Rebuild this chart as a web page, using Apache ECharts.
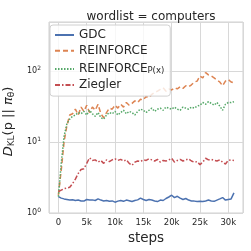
<!DOCTYPE html>
<html><head><meta charset="utf-8">
<script src="https://cdn.jsdelivr.net/npm/echarts@6/dist/echarts.min.js"></script>
<style>html,body{margin:0;padding:0;background:#fff}#c{width:251px;height:251px}</style>
</head><body><div id="c"></div>
<script>
const steps = [0,500,1000,1500,2000,2500,3000,3500,4000,4500,5000,5500,6000,6500,7000,7500,8000,8500,9000,9500,10000,10500,11000,11500,12000,12500,13000,13500,14000,14500,15000,15500,16000,16500,17000,17500,18000,18500,19000,19500,20000,20500,21000,21500,22000,22500,23000,23500,24000,24500,25000,25500,26000,26500,27000,27500,28000,28500,29000,29500,30000,30500,31000];
const gdc = [1.70,1.62,1.58,1.55,1.52,1.54,1.50,1.52,1.48,1.47,1.55,1.52,1.53,1.50,1.58,1.52,1.48,1.50,1.46,1.48,1.42,1.47,1.50,1.46,1.52,1.49,1.45,1.50,1.53,1.62,1.55,1.50,1.55,1.52,1.48,1.45,1.52,1.50,1.60,1.68,1.78,1.65,1.72,1.62,1.55,1.60,1.52,1.48,1.47,1.45,1.46,1.45,1.48,1.52,1.48,1.46,1.52,1.58,1.65,1.52,1.55,1.58,1.92];
const reinforce = [1.8,4,10,17,24,25,29,24,31,27,33,26,31,28,34,25,22,26,30,29,33,30,34,31,36,33,35,38,36,40,39,44,42,47,50,52,55,58,52,56,54,58,56,60,57,62,60,64,70,72,85,80,95,88,85,80,75,70,62,72,76,70,68];
const reinforcePx = [1.7,5,12,18,21,23,24,26,25,27,24,28,25,23,26,22,21,24,26,25,27,24,26,28,25,27,26,24,27,29,28,26,28,30,27,29,30,28,31,30,29,31,29,28,31,30,29,31,30,32,33,36,34,37,35,33,36,32,28,34,36,36,37];
const ziegler = [2.0,2.1,2.2,2.25,2.3,2.6,3.0,3.6,4.1,4.2,5.0,6.0,5.5,5.6,5.2,5.5,5.0,5.6,5.3,5.6,5.8,5.5,5.7,5.4,5.6,5.0,4.7,5.2,5.4,5.3,5.6,5.5,5.8,5.6,5.4,5.7,5.2,5.5,5.4,5.6,5.9,5.2,5.5,5.7,5.4,5.6,5.8,5.4,5.2,5.3,4.8,5.2,5.9,5.6,5.7,5.5,5.4,5.6,5.2,4.9,5.5,5.6,5.5];
const seriesNames = ['GDC','REINFORCE','REINFORCE_P(x)','Ziegler'];
const xTicks = [0,5000,10000,15000,20000,25000,30000];

const pair = a => steps.map((s,i)=>[s,a[i]]);
const chart = echarts.init(document.getElementById('c'));
const F = 'DejaVu Sans';
const dark = '#262626';
function mk(name, data, color, type){
  return {name, type:'line', data:pair(data), showSymbol:false, symbol:'none',
    lineStyle:{color, width:1.5, type}, itemStyle:{color}, animation:false};
}
chart.setOption({
  animation:false,
  title:{text:'wordlist = computers', left:146, top:6, textAlign:'center',
    textStyle:{fontFamily:F, fontSize:12, fontWeight:'normal', color:dark}},
  grid:{left:49, right:8, top:22, bottom:38, show:true, borderColor:'#d0d0d0', borderWidth:1, outerBoundsMode:'none', containLabel:false},
  legend:{left:50, top:25, orient:'vertical', itemWidth:19, itemHeight:13, itemGap:3.7,
    padding:[4,6,5,4], backgroundColor:'rgba(255,255,255,0.8)', borderColor:'#d0d0d0', borderWidth:1, borderRadius:3,
    data:seriesNames,
    itemStyle:{opacity:0},
    formatter: n => n==='REINFORCE_P(x)' ? '{t|REINFORCE}{s|P(x)}' : '{t|'+n+'}',
    textStyle:{fontFamily:F, fontSize:12, color:dark,
      rich:{t:{fontFamily:F, fontSize:12, color:dark, lineHeight:13},
            s:{fontFamily:F, fontSize:8.5, color:dark, lineHeight:13, verticalAlign:'bottom', padding:[6,0,0,0]}}}},
  xAxis:{type:'value', min:-1660, max:32600, splitNumber:7,
    name:'steps', nameLocation:'middle', nameGap:14,
    nameTextStyle:{fontFamily:F, fontSize:13.5, color:dark},
    axisLine:{show:false}, axisTick:{show:false},
    axisLabel:{fontFamily:F, fontSize:8.5, color:dark, margin:5, showMinLabel:false, showMaxLabel:false,
      formatter: v => xTicks.indexOf(v)<0 ? '' : (v===0?'0':(v/1000)+'k')},
    splitLine:{show:true, lineStyle:{color:'#d8d8d8', width:1}}},
  yAxis:{type:'log', logBase:10, min:1, max:490,
    name:'{i|D}{s|KL}{n|(p || }{i|π}{s|θ}{n|)}', nameLocation:'middle', nameGap:26, nameRotate:90,
    nameTextStyle:{fontFamily:F, fontSize:13, color:dark, padding:[0,8,0,0],
      rich:{i:{fontFamily:F, fontStyle:'italic', fontSize:13, color:dark},
            n:{fontFamily:F, fontSize:13, color:dark},
            s:{fontFamily:F, fontSize:9, color:dark, verticalAlign:'bottom', padding:[5,0,0,0]}}},
    axisLine:{show:false}, axisTick:{show:false},
    axisLabel:{fontFamily:F, fontSize:8, color:dark, margin:8, showMaxLabel:false,
      formatter: v => { const e=Math.log10(v); if (Math.abs(e-Math.round(e))>1e-6) return ''; return '{b|10}{e|'+Math.round(e)+'}'; },
      rich:{b:{fontFamily:F, fontSize:8, color:dark}, e:{fontFamily:F, fontSize:6, color:dark, verticalAlign:'top', padding:[0,0,5,0]}}},
    splitLine:{show:true, lineStyle:{color:'#d8d8d8', width:1}}, minorSplitLine:{show:false}},
  series:[
    mk('GDC', gdc, '#4c72b0', 'solid'),
    mk('REINFORCE', reinforce, '#dd8452', [5,3]),
    mk('REINFORCE_P(x)', reinforcePx, '#55a868', [1.5,1.5]),
    mk('Ziegler', ziegler, '#c44e52', [5,2,1.5,2])
  ]
});
</script></body></html>
